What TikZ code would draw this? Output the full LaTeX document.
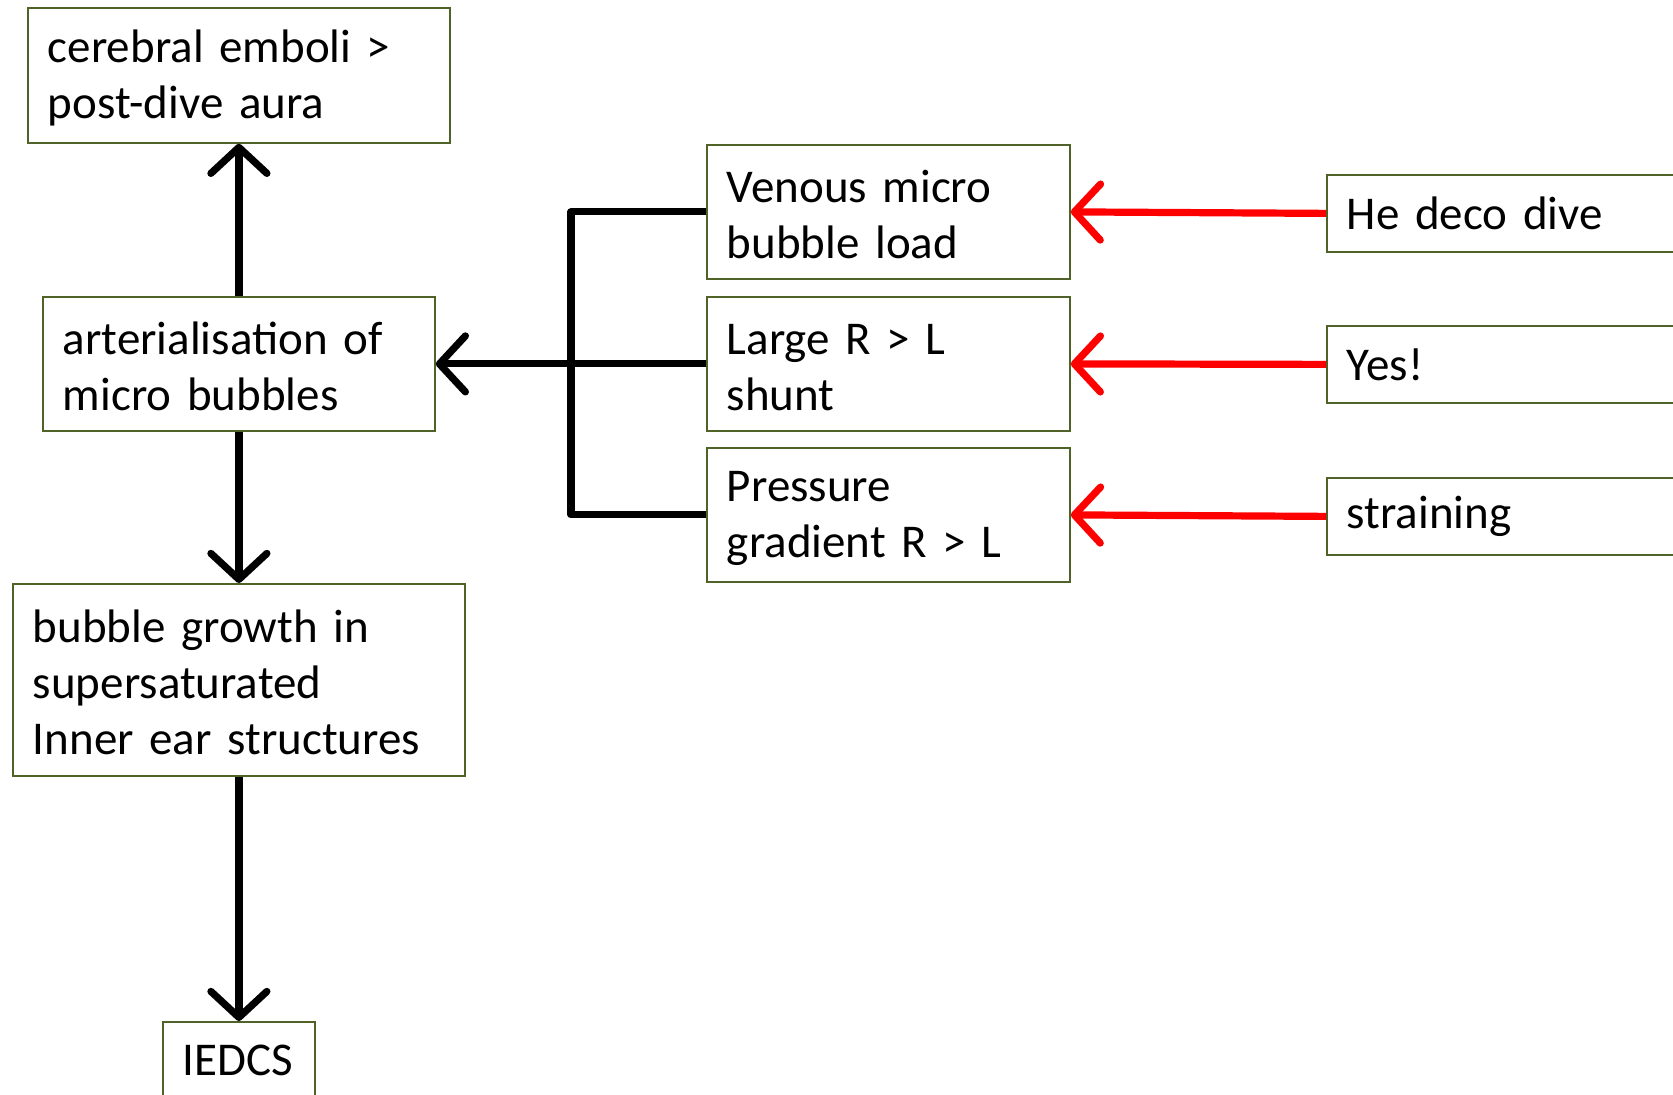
\documentclass[tikz,border=0pt]{standalone}
\usepackage{fontspec}
\setmainfont{Carlito}
\usetikzlibrary{arrows.meta}
\definecolor{boxgreen}{RGB}{79,98,40}
\begin{document}
\begin{tikzpicture}[x=0.5pt,y=-0.5pt,
  box/.style={draw=boxgreen, line width=0.9pt, inner xsep=10pt, inner ysep=0pt,
    align=left, anchor=north west, font=\fontsize{23.5pt}{28pt}\selectfont},
  arr/.style={line width=3.6pt, line join=round, -{Straight Barb[length=13pt,width=28pt,round]}},
  redarr/.style={arr, red},
  brk/.style={line width=3.6pt, line join=round}]
\useasboundingbox (0,0) rectangle (1673,1095);
\fill[white] (0,0) rectangle (1673,1095);
% left column
\node[box, text width=191pt, minimum height=67.5pt] (cer) at (27,7) {\rule{0pt}{19pt}cerebral emboli >\\post-dive aura};
\node[box, text width=176pt, minimum height=67pt] (art) at (42,296) {\rule{0pt}{19pt}arterialisation of\\micro bubbles};
\node[box, text width=206pt, minimum height=96pt] (bub) at (12,583) {\rule{0pt}{19pt}bubble growth in\\supersaturated\\Inner ear structures};
\node[box, text width=56pt, minimum height=38.5pt] (ied) at (162,1021) {IEDCS};
% middle column
\node[box, text width=161.5pt, minimum height=67pt] (ven) at (706,144) {\rule{0pt}{19pt}Venous micro\\bubble load};
\node[box, text width=161.5pt, minimum height=67pt] (lar) at (706,296) {\rule{0pt}{19pt}Large R > L\\shunt};
\node[box, text width=161.5pt, minimum height=67pt] (pre) at (706,447) {\rule{0pt}{19pt}Pressure\\gradient R > L};
% right column
\node[box, text width=180pt, minimum height=38.5pt] (he) at (1326,174) {He deco dive};
\node[box, text width=180pt, minimum height=38.5pt] (yes) at (1326,325) {Yes!};
\node[box, text width=180pt, minimum height=38.5pt] (str) at (1326,477) {straining};
% connectors
\coordinate (br) at (571,363);
\draw[arr] (art.north) -- (cer.south);
\draw[arr] (art.south) -- (bub.north);
\draw[arr] (bub.south) -- (ied.north);
\draw[brk] (ven.west) -- (ven.west -| br) -- (pre.west -| br) -- (pre.west);
\draw[brk] (lar.west) -- (lar.west -| br);
\draw[arr] (lar.west -| br) -- (art.east);
\draw[redarr] (he.west) -- (ven.east);
\draw[redarr] (yes.west) -- (lar.east);
\draw[redarr] (str.west) -- (pre.east);
\end{tikzpicture}
\end{document}
